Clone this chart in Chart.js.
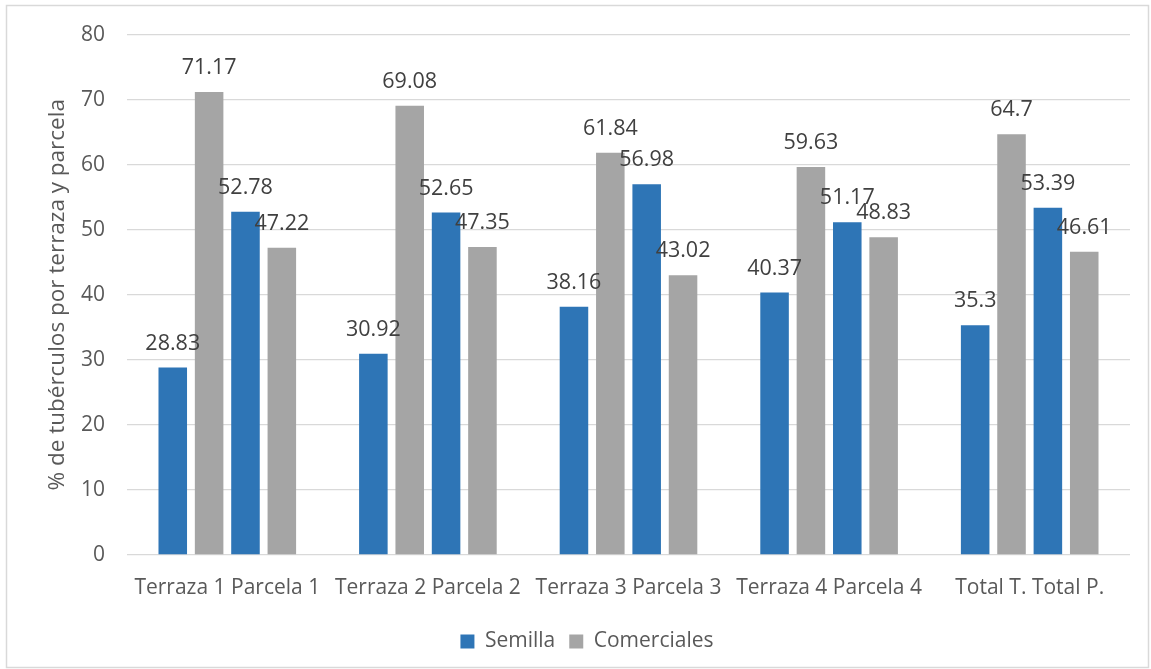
<!DOCTYPE html>
<html>
<head>
<meta charset="utf-8">
<script src="https://cdn.jsdelivr.net/npm/chart.js@4"></script>
<style>
  html, body { margin: 0; padding: 0; background: #fff; }
  #wrap { width: 1151px; height: 669px; }
</style>
</head>
<body>
<div id="wrap"><canvas id="tuberChart" width="1151" height="669"></canvas></div>
<script>
const labels = ['Terraza 1 Parcela 1', 'Terraza 2 Parcela 2', 'Terraza 3 Parcela 3', 'Terraza 4 Parcela 4', 'Total T. Total P.'];

// terraza / parcela pairs, each split into semilla and comerciales
const semillaTerraza = [28.83, 30.92, 38.16, 40.37, 35.3];
const comercialesTerraza = [71.17, 69.08, 61.84, 59.63, 64.7];
const semillaParcela = [52.78, 52.65, 56.98, 51.17, 53.39];
const comercialesParcela = [47.22, 47.35, 43.02, 48.83, 46.61];

const BLUE = '#2E75B6';
const GRAY = '#A5A5A5';
const FONT = 'Open Sans';

// value labels above each bar
const barValues = {
    id: 'barValues',
    afterDatasetsDraw(chart) {
        const ctx = chart.ctx;
        ctx.save();
        ctx.font = '21.5px "' + FONT + '"';
        ctx.fillStyle = '#404040';
        ctx.textAlign = 'center';
        ctx.textBaseline = 'middle';
        chart.data.datasets.forEach((ds, i) => {
            chart.getDatasetMeta(i).data.forEach((bar, j) => {
                ctx.fillText(String(ds.data[j]), bar.x, bar.y - 24);
            });
        });
        ctx.restore();
    }
};

// white background and thin outer frame
const frame = {
    id: 'frame',
    beforeDraw(chart) {
        const ctx = chart.ctx;
        ctx.save();
        ctx.fillStyle = '#fff';
        ctx.fillRect(0, 0, chart.width, chart.height);
        ctx.strokeStyle = '#d9d9d9';
        ctx.lineWidth = 1.5;
        ctx.strokeRect(6.5, 5.5, 1142, 662);
        ctx.restore();
    }
};

const data = {
    labels: labels,
    datasets: [
        { label: 'Semilla', data: semillaTerraza, backgroundColor: BLUE },
        { label: 'Comerciales', data: comercialesTerraza, backgroundColor: GRAY },
        { label: 'Semilla', data: semillaParcela, backgroundColor: BLUE },
        { label: 'Comerciales', data: comercialesParcela, backgroundColor: GRAY }
    ]
};

const config = {
    type: 'bar',
    data: data,
    options: {
        responsive: false,
        animation: false,
        datasets: {
            bar: {
                categoryPercentage: 0.725,
                barPercentage: 0.785
            }
        },
        layout: {
            padding: { top: 34, right: 21, bottom: 7, left: 44 }
        },
        plugins: {
            legend: {
                position: 'bottom',
                labels: {
                    filter: item => item.datasetIndex < 2,
                    boxWidth: 14,
                    boxHeight: 14,
                    padding: 14,
                    color: '#595959',
                    font: { family: FONT, size: 21 }
                }
            },
            tooltip: { enabled: false }
        },
        scales: {
            x: {
                grid: { display: false },
                border: { display: false },
                ticks: {
                    color: '#595959',
                    font: { family: FONT, size: 21 },
                    padding: 12,
                    maxRotation: 0
                },
                afterFit(scale) { scale.height = 62; }
            },
            y: {
                min: 0,
                max: 80,
                grid: { color: '#d9d9d9', lineWidth: 1.3, drawTicks: false },
                border: { display: false },
                ticks: {
                    stepSize: 10,
                    color: '#595959',
                    font: { family: FONT, size: 21 },
                    padding: 22
                },
                title: {
                    display: true,
                    text: '% de tubérculos por terraza y parcela',
                    color: '#595959',
                    font: { family: FONT, size: 22.5 },
                    padding: { top: 0, bottom: 0 }
                },
                afterFit(scale) { scale.width = 83; }
            }
        }
    },
    plugins: [frame, barValues]
};

const tuberChart = new Chart(document.getElementById('tuberChart'), config);
</script>
</body>
</html>
